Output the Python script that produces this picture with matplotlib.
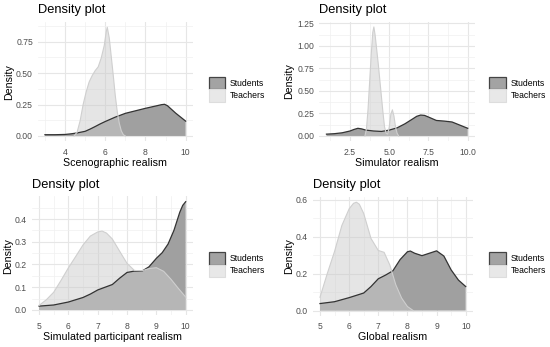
import matplotlib
matplotlib.use("Agg")
import matplotlib.pyplot as plt
from matplotlib.patches import Patch
from matplotlib.ticker import MultipleLocator, FormatStrFormatter

plt.rcParams['font.family'] = ['Liberation Sans', 'DejaVu Sans']

# ---------------- data ----------------
groups = ["Students", "Teachers"]
titles = ["Density plot", "Density plot", "Density plot", "Density plot"]
xlabels = ["Scenographic realism", "Simulator realism",
           "Simulated participant realism", "Global realism"]

students1_x = [3.0, 3.5, 4.0, 4.3, 4.6, 5.0, 5.25, 5.5, 5.75, 6.0, 6.5, 7.0, 7.5, 8.0, 8.5, 8.8, 8.95, 9.1, 9.5, 10.0]
students1_y = [0.010, 0.010, 0.012, 0.017, 0.024, 0.037, 0.055, 0.075, 0.096, 0.115, 0.150, 0.180, 0.200, 0.220, 0.238, 0.249, 0.252, 0.240, 0.182, 0.118]
teachers1_x = [4.45, 4.6, 4.75, 4.9, 5.05, 5.2, 5.35, 5.5, 5.65, 5.8, 5.95, 6.05, 6.1,
               6.2, 6.3, 6.4, 6.5, 6.6, 6.7, 6.8, 6.9, 7.0]
teachers1_y = [0.0, 0.03, 0.12, 0.25, 0.35, 0.43, 0.48, 0.52, 0.55, 0.62, 0.72, 0.83, 0.865,
               0.78, 0.63, 0.48, 0.32, 0.19, 0.10, 0.04, 0.01, 0.0]

students2_x = [1.0, 1.5, 2.0, 2.5, 2.75, 3.0, 3.25, 3.5, 4.0, 4.5, 5.0, 5.5, 6.0, 6.5, 6.75, 7.0, 7.25, 7.5, 8.0, 8.5, 9.0, 9.5, 10.0]
students2_y = [0.020, 0.025, 0.035, 0.055, 0.072, 0.085, 0.078, 0.065, 0.055, 0.050, 0.065, 0.090, 0.135, 0.190, 0.218, 0.232, 0.228, 0.210, 0.172, 0.165, 0.155, 0.120, 0.085]
teachers2_x = [3.45, 3.55, 3.65, 3.75, 3.85, 3.95, 4.02, 4.1, 4.2, 4.3, 4.4, 4.5, 4.6, 4.7,
               4.8, 4.9, 5.0, 5.1, 5.2, 5.3, 5.4, 5.5, 5.6]
teachers2_y = [0.0, 0.08, 0.30, 0.60, 0.90, 1.15, 1.21, 1.12, 0.96, 0.80, 0.62, 0.44, 0.26, 0.10,
               0.03, 0.02, 0.10, 0.24, 0.29, 0.22, 0.10, 0.03, 0.0]

students3_x = [5.0, 5.5, 6.0, 6.5, 6.75, 7.0, 7.25, 7.5, 7.75, 8.0, 8.25, 8.5, 8.75, 9.0, 9.2, 9.4, 9.6, 9.8, 9.9, 10.0]
students3_y = [0.017, 0.022, 0.035, 0.055, 0.070, 0.088, 0.100, 0.112, 0.140, 0.165, 0.171, 0.170, 0.190, 0.227, 0.252, 0.290, 0.350, 0.430, 0.460, 0.476]
teachers3_x = [5.0, 5.25, 5.5, 5.75, 6.0, 6.25, 6.5, 6.75, 7.0, 7.15, 7.3, 7.5, 7.75, 8.0, 8.25,
               8.5, 8.75, 9.0, 9.25, 9.5, 9.75, 10.0]
teachers3_y = [0.020, 0.045, 0.078, 0.130, 0.185, 0.235, 0.286, 0.325, 0.343, 0.347, 0.338, 0.312, 0.258, 0.205, 0.174,
               0.172, 0.182, 0.186, 0.170, 0.135, 0.095, 0.057]

students4_x = [5.0, 5.5, 6.0, 6.5, 6.75, 7.0, 7.25, 7.5, 7.75, 8.0, 8.1, 8.25, 8.5, 8.75, 9.0, 9.25, 9.5, 9.75, 10.0]
students4_y = [0.038, 0.048, 0.070, 0.095, 0.130, 0.172, 0.192, 0.215, 0.276, 0.318, 0.322, 0.310, 0.297, 0.310, 0.323, 0.295, 0.220, 0.165, 0.130]
teachers4_x = [5.0, 5.25, 5.5, 5.75, 6.0, 6.15, 6.25, 6.35, 6.5, 6.75, 7.0, 7.2, 7.4, 7.6, 7.8, 8.0, 8.2]
teachers4_y = [0.072, 0.200, 0.320, 0.460, 0.550, 0.580, 0.586, 0.575, 0.525, 0.390, 0.325, 0.315, 0.245, 0.140, 0.068, 0.022, 0.0]

panels = [
    (students1_x, students1_y, teachers1_x, teachers1_y),
    (students2_x, students2_y, teachers2_x, teachers2_y),
    (students3_x, students3_y, teachers3_x, teachers3_y),
    (students4_x, students4_y, teachers4_x, teachers4_y),
]

x_major = [2, 2.5, 1, 1]
y_major = [0.25, 0.25, 0.1, 0.2]
y_fmt = ["%.2f", "%.2f", "%.1f", "%.1f"]
x_fmt = ["%d", "%.1f", "%d", "%d"]

# ---------------- styling ----------------
W, H = 550, 347
boxes = [  # left, right, top, bottom in pixels
    (37.9, 192.7, 21.8, 141.4),
    (319.4, 474.8, 21.5, 141.4),
    (31.7, 193.0, 196.3, 315.4),
    (312.7, 473.0, 196.8, 316.0),
]
ylabel_cx = [8.7, 288.8, 8.0, 289.2]
legend_pos = [(208.5, 89.3), (489.3, 89.3), (208.5, 264.5), (489.3, 264.5)]

fig = plt.figure(figsize=(W / 100, H / 100), dpi=100)

for i, (sx, sy, tx, ty) in enumerate(panels):
    l, r, t, b = boxes[i]
    ax = fig.add_axes([l / W, 1 - b / H, (r - l) / W, (b - t) / H])
    ax.set_facecolor("white")
    for s in ax.spines.values():
        s.set_visible(False)

    ax.fill_between(sx, 0, sy, facecolor="#a0a0a0", edgecolor="none", zorder=2)
    ax.plot(sx, sy, color="#333333", lw=0.9, zorder=4)
    ax.fill_between(tx, 0, ty, facecolor="#cccccc", edgecolor="none",
                    alpha=0.5, zorder=3)
    ax.plot(tx, ty, color="#cfcfcf", lw=0.8, zorder=4)

    ax.margins(x=0.05, y=0.05)

    ax.xaxis.set_major_locator(MultipleLocator(x_major[i]))
    ax.xaxis.set_minor_locator(MultipleLocator(x_major[i] / 2))
    ax.yaxis.set_major_locator(MultipleLocator(y_major[i]))
    ax.yaxis.set_minor_locator(MultipleLocator(y_major[i] / 2))
    ax.xaxis.set_major_formatter(FormatStrFormatter(x_fmt[i]))
    ax.yaxis.set_major_formatter(FormatStrFormatter(y_fmt[i]))

    ax.grid(which="major", color="#e6e6e6", lw=0.8, zorder=0)
    ax.grid(which="minor", color="#f0f0f0", lw=0.5, zorder=0)
    ax.set_axisbelow(True)
    ax.tick_params(which="both", length=0)
    ax.tick_params(axis="x", labelsize=6.2, labelcolor="#4d4d4d", pad=4.6)
    ax.tick_params(axis="y", labelsize=6.2, labelcolor="#4d4d4d", pad=3.6)

    ax.set_title(titles[i], loc="left", fontsize=9.3, pad=6.0, color="black")

    hpx = b - t
    wpx = r - l
    ax.set_xlabel(xlabels[i], fontsize=7.7, color="black", va="baseline")
    ax.xaxis.set_label_coords(0.5, -24.5 / hpx)
    ax.set_ylabel("Density", fontsize=7.7, color="black", va="center")
    ax.yaxis.set_label_coords((ylabel_cx[i] - l) / wpx, 0.5)

    handles = [
        Patch(facecolor="#a3a3a3", edgecolor="#444444", lw=0.9),
        Patch(facecolor="#e8e8e8", edgecolor="#dddddd", lw=0.8),
    ]
    lx, ly = legend_pos[i]
    fig.legend(handles, groups, loc="center left",
               bbox_to_anchor=(lx / W, 1 - ly / H), bbox_transform=fig.transFigure,
               frameon=False, fontsize=6.2, handlelength=1.9, handleheight=1.85,
               handletextpad=0.6, labelspacing=0.0, borderpad=0.0, borderaxespad=0.0)

fig.savefig("out.png", dpi=100)
